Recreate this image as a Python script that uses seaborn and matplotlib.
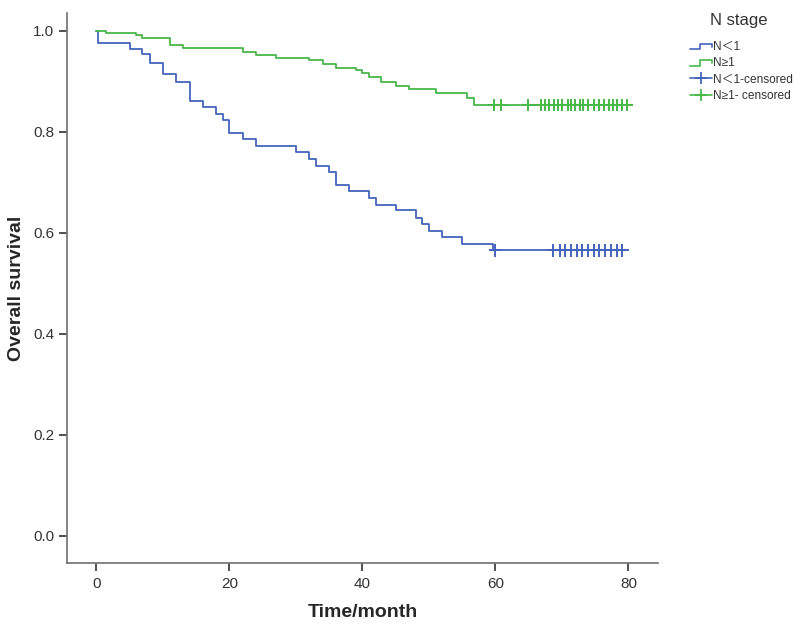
import numpy as np
import pandas as pd
import matplotlib
matplotlib.use('Agg')
import matplotlib.pyplot as plt
from matplotlib.lines import Line2D
from matplotlib.legend_handler import HandlerBase
import seaborn as sns

# Kaplan-Meier step points
t_low = [0, 0.2, 5, 6.9, 8, 10, 12, 14, 16, 18, 19, 20, 22, 24, 30, 32, 33, 35, 36, 38,
         41, 42, 45, 48, 49, 50, 52, 55, 59.6, 79.3]
s_low = [1.0, 0.976, 0.964, 0.954, 0.937, 0.914, 0.898, 0.861, 0.848, 0.835, 0.823, 0.798,
         0.786, 0.771, 0.759, 0.746, 0.733, 0.721, 0.694, 0.682, 0.669, 0.655, 0.644, 0.630,
         0.617, 0.604, 0.592, 0.578, 0.565, 0.565]
t_high = [0, 1.5, 6, 6.9, 11, 13, 22, 24, 27, 32, 34, 36, 39, 40, 41, 42.8, 45, 47, 51,
          55.7, 56.8, 80.4]
s_high = [1.0, 0.995, 0.991, 0.985, 0.972, 0.965, 0.957, 0.952, 0.945, 0.941, 0.934, 0.927,
          0.922, 0.916, 0.909, 0.898, 0.891, 0.885, 0.877, 0.867, 0.853, 0.853]

# censored times
c_low = [60, 68.7, 69.7, 70.5, 71.4, 72.3, 73.0, 73.9, 74.8, 75.6, 76.5, 77.4, 78.3, 79.1]
c_high = [59.8, 60.9, 64.9, 66.8, 67.5, 68.0, 68.8, 69.4, 70.0, 70.9, 71.4, 72.0, 72.7,
          73.2, 73.9, 74.8, 75.5, 76.3, 77.0, 77.7, 78.3, 79.1, 79.8]

labels = ['N\uff1c1', 'N\u22651', 'N\uff1c1-censored', 'N\u22651- censored']
blue = '#4463bd'
green = '#48b848'

def surv_at(times, st, ss):
    # value of step function at censored times
    out = []
    for c in times:
        idx = np.searchsorted(st, c, side='right') - 1
        out.append(ss[idx])
    return out

curves = pd.concat([
    pd.DataFrame({'time': t_low, 'surv': s_low, 'group': labels[0]}),
    pd.DataFrame({'time': t_high, 'surv': s_high, 'group': labels[1]}),
])
cens = pd.concat([
    pd.DataFrame({'time': c_low, 'surv': surv_at(c_low, t_low, s_low), 'group': labels[0]}),
    pd.DataFrame({'time': c_high, 'surv': surv_at(c_high, t_high, s_high), 'group': labels[1]}),
])

sns.set_style('white')
plt.rcParams['font.family'] = ['Liberation Sans', 'Noto Sans CJK SC', 'DejaVu Sans']

fig = plt.figure(figsize=(8, 6.26), dpi=100)
ax = fig.add_axes([0.084, 0.100, 0.739, 0.880])

pal = {labels[0]: blue, labels[1]: green}
sns.lineplot(data=curves, x='time', y='surv', hue='group', palette=pal, estimator=None,
             drawstyle='steps-post', linewidth=1.3, legend=False, ax=ax)
sns.scatterplot(data=cens, x='time', y='surv', hue='group', palette=pal, marker='+',
                s=80, linewidth=1.4, legend=False, ax=ax)

ax.set_xlim(-4.4, 84.5)
ax.set_ylim(-0.055, 1.036)
ax.set_xticks([0, 20, 40, 60, 80])
ax.set_yticks([0.0, 0.2, 0.4, 0.6, 0.8, 1.0])
ax.set_yticklabels(['0.0', '0.2', '0.4', '0.6', '0.8', '1.0'])
ax.set_xlabel('Time/month', fontsize=14, fontweight='bold', labelpad=10)
ax.set_ylabel('Overall survival', fontsize=14, fontweight='bold', labelpad=6)
for side in ['top', 'right']:
    ax.spines[side].set_visible(False)
for side in ['left', 'bottom']:
    ax.spines[side].set_color('#707070')
    ax.spines[side].set_linewidth(1.2)
ax.tick_params(axis='both', direction='out', length=6, width=1.4, color='#505050',
               labelsize=11, labelcolor='#333333', left=True, bottom=True)


class StepHandler(HandlerBase):
    def create_artists(self, legend, orig, xd, yd, w, h, fontsize, trans):
        x = [-xd, -xd + w * 0.45, -xd + w * 0.45, -xd + w, -xd + w]
        y = [-yd + h * 0.1, -yd + h * 0.1, -yd + h * 0.8, -yd + h * 0.8, -yd + h * 0.45]
        ln = Line2D(x, y, color=orig.get_color(), lw=1.2, transform=trans)
        return [ln]


handles = [
    Line2D([], [], color=blue),
    Line2D([], [], color=green),
    Line2D([], [], color=blue, marker='+', markersize=9, mew=1.3, lw=1.2),
    Line2D([], [], color=green, marker='+', markersize=9, mew=1.3, lw=1.2),
]
fig.text(0.923, 0.968, 'N stage', fontsize=12, color='#333333', ha='center', va='center')
leg = fig.legend(handles, labels, loc='upper left', bbox_to_anchor=(0.862, 0.934),
                 frameon=False, fontsize=8.6, borderaxespad=0, borderpad=0,
                 handlelength=1.9, handletextpad=0.05, labelspacing=0.35,
                 handler_map={handles[0]: StepHandler(), handles[1]: StepHandler()})
for t in leg.get_texts():
    t.set_color('#333333')

fig.savefig('out.png', dpi=100)
